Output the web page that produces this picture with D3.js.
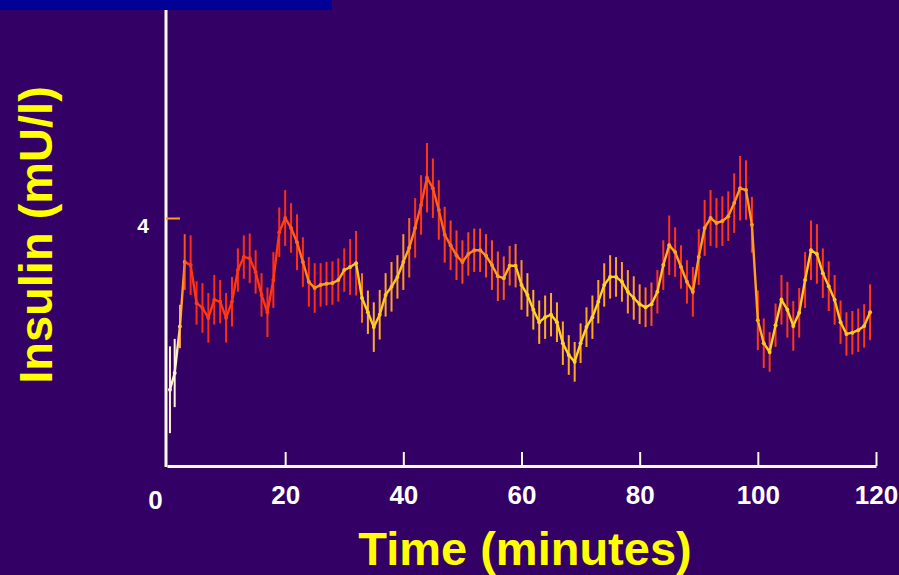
<!DOCTYPE html>
<html><head><meta charset="utf-8">
<script src="https://cdn.jsdelivr.net/npm/d3@7"></script>
<style>html,body{margin:0;padding:0;background:#330066;} svg{display:block;}</style>
</head><body><svg id="c" width="899" height="575"></svg>
<script>
// ---- data ----
const times = [0.5,1.3,2.2,3,4,5,6,7,8,9,10,11,12,13,14,15,16,17,18,19,20,
  21,22,23,24,25,26,27,28,29,30,31,32,33,34,35,36,37,38,39,40,
  41,42,43,44,45,46,47,48,49,50,51,52,53,54,55,56,57,58,59,60,
  61,62,63,64,65,66,67,68,69,70,71,72,73,74,75,76,77,78,79,80,
  81,82,83,84,85,86,87,88,89,90,91,92,93,94,95,96,97,98,99,100,
  101,102,103,104,105,106,107,108,109,110,111,112,113,114,115,116,117,118,119];
const insulin = [1.23,1.50,2.25,3.29,3.24,2.63,2.55,2.39,2.68,2.65,2.39,2.65,3.16,3.37,3.35,3.13,2.76,2.48,3.00,3.77,4.00,
  3.84,3.61,3.29,2.97,2.87,2.92,2.94,2.95,3.00,3.16,3.21,3.27,2.71,2.48,2.24,2.44,2.76,2.89,3.05,3.29,
  3.52,3.84,4.21,4.65,4.48,4.13,3.73,3.56,3.40,3.29,3.42,3.48,3.48,3.39,3.24,3.06,3.03,3.23,3.23,2.92,
  2.76,2.52,2.32,2.40,2.44,2.32,1.98,1.79,1.68,1.98,2.24,2.40,2.65,2.92,3.05,3.05,2.97,2.81,2.71,2.61,
  2.56,2.61,2.81,3.24,3.56,3.45,3.21,2.97,2.81,3.37,3.84,4.00,3.92,3.95,4.03,4.24,4.48,4.45,3.89,2.35,
  1.98,1.84,2.27,2.68,2.52,2.26,2.47,3.00,3.48,3.42,3.11,2.90,2.68,2.32,2.13,2.15,2.19,2.26,2.48];
const errors = [0.70,0.55,0.35,
  0.45,0.48,0.35,0.40,0.40,0.40,0.35,0.40,0.40,0.35,0.35,0.40,0.35,0.35,0.40,0.45,0.40,0.45,
  0.40,0.45,0.40,0.40,0.40,0.35,0.35,0.35,0.35,0.35,0.45,0.52,0.40,0.35,0.40,0.40,0.35,0.40,0.35,0.45,
  0.48,0.48,0.48,0.56,0.48,0.48,0.45,0.40,0.40,0.35,0.35,0.35,0.35,0.35,0.40,0.40,0.35,0.32,0.35,0.40,
  0.35,0.32,0.35,0.35,0.35,0.32,0.35,0.32,0.32,0.32,0.32,0.35,0.35,0.35,0.35,0.32,0.32,0.35,0.35,0.32,
  0.32,0.35,0.35,0.40,0.48,0.40,0.35,0.35,0.40,0.45,0.45,0.45,0.40,0.40,0.40,0.48,0.52,0.48,0.45,0.48,
  0.40,0.32,0.35,0.40,0.45,0.40,0.40,0.45,0.48,0.48,0.40,0.40,0.40,0.35,0.35,0.35,0.35,0.35,0.45];
const xTicks = [0,20,40,60,80,100,120];
const yTicks = [4];
const xTitle = "Time (minutes)";
const yTitle = "Insulin (mU/l)";

// ---- drawing ----
const FONT = "'Liberation Sans', Arial, Helvetica, sans-serif";
const svg = d3.select("#c");
svg.append("rect").attr("width",899).attr("height",575).attr("fill","#330066");
svg.append("rect").attr("x",0).attr("y",0).attr("width",332).attr("height",10).attr("fill","#000099");

const x = d3.scaleLinear().domain([0,120]).range([167,876]);
const y = d3.scaleLinear().domain([0,4]).range([466,218]);
const data = times.map((t,i)=>({t, v:insulin[i], e:errors[i]}));

const defs = svg.append("defs");
function grad(id, stops){
  const g = defs.append("linearGradient").attr("id",id).attr("gradientUnits","userSpaceOnUse")
    .attr("x1",x(0)).attr("x2",x(120)).attr("y1",0).attr("y2",0);
  stops.forEach(([t,c])=>g.append("stop").attr("offset",t/120).attr("stop-color",c));
}
grad("lineG",[[0,"#fff4d8"],[1.6,"#fff4d8"],[2.4,"#ffb020"],[3.5,"#ff3812"],[19,"#ff3812"],[24,"#ff8a1c"],[33,"#ffd024"],[40,"#ffc020"],[43,"#ff5014"],[50,"#ff7a1c"],[58,"#ffb820"],[61,"#ffd424"],[82,"#ffd424"],[86,"#ffa41e"],[99,"#ff9a1e"],[102,"#ffd024"],[120,"#ffc020"]]);
grad("barG",[[0,"#fff4d8"],[1.6,"#fff4d8"],[2.4,"#ff8020"],[3.5,"#ff2a10"],[32,"#ff3010"],[34,"#ffb020"],[40,"#ff9a1e"],[42,"#ff3010"],[58,"#ff5a14"],[61,"#ffb420"],[80,"#ff9a1e"],[83,"#ff3414"],[120,"#ff3a14"]]);

// axes
svg.append("line").attr("x1",166).attr("x2",166).attr("y1",10).attr("y2",467)
  .attr("stroke","#fffbe6").attr("stroke-width",3);

const gx = svg.append("g").attr("transform","translate(0,466)")
  .call(d3.axisBottom(x).tickValues(xTicks).tickFormat(d3.format("d"))
    .tickSizeInner(-14).tickSizeOuter(0).tickPadding(20));
gx.select(".domain").attr("stroke","#fffbe6").attr("stroke-width",3);
gx.selectAll(".tick line").attr("stroke","#fffbe6").attr("stroke-width",2)
  .attr("opacity",d=>d===0?0:1);
gx.selectAll(".tick text")
  .style("fill","#ffffff").style("font-family",FONT).style("font-weight","bold").style("font-size","26px")
  .attr("dx",d=>d===0?-12:0).attr("dy",d=>d===0?"0.9em":"0.71em");

const gy = svg.append("g").attr("transform","translate(166,0)")
  .call(d3.axisLeft(y).tickValues(yTicks).tickFormat(d3.format("d"))
    .tickSizeInner(-14).tickSizeOuter(0).tickPadding(17));
gy.select(".domain").remove();
gy.selectAll(".tick line").attr("stroke","#ff9a30").attr("stroke-width",2);
gy.selectAll(".tick text")
  .style("fill","#ffffff").style("font-family",FONT).style("font-weight","bold").style("font-size","21px")
  .attr("dy","0.7em");

// error bars
svg.append("g").selectAll("line").data(data).join("line")
  .attr("x1",d=>x(d.t)).attr("x2",d=>x(d.t))
  .attr("y1",d=>y(d.v+d.e)).attr("y2",d=>y(d.v-d.e))
  .attr("stroke","url(#barG)").attr("stroke-width",2);

// line
svg.append("path").datum(data)
  .attr("d",d3.line().x(d=>x(d.t)).y(d=>y(d.v)))
  .attr("fill","none").attr("stroke","url(#lineG)").attr("stroke-width",2.4);

// points
svg.append("g").selectAll("circle").data(data).join("circle")
  .attr("cx",d=>x(d.t)).attr("cy",d=>y(d.v)).attr("r",2).attr("fill","url(#lineG)");

// titles
svg.append("text").attr("x",525).attr("y",565).attr("text-anchor","middle")
  .style("fill","#ffff00").style("font-family",FONT).style("font-weight","bold").style("font-size","47px")
  .text(xTitle);
svg.append("text").attr("transform","translate(52,235) rotate(-90)").attr("text-anchor","middle")
  .style("fill","#ffff00").style("font-family",FONT).style("font-weight","bold").style("font-size","47px")
  .text(yTitle);
</script>
</body></html>
